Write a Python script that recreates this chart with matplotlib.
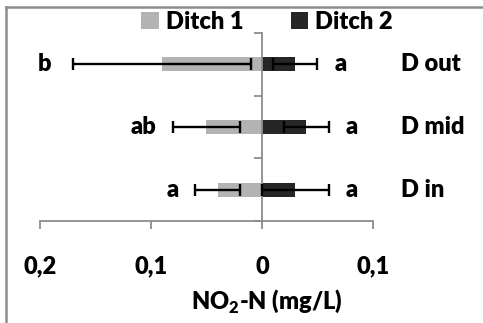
import matplotlib
matplotlib.use("Agg")
import matplotlib.pyplot as plt
from matplotlib.lines import Line2D
import numpy as np

# data (mg/L)
sites = ["D in", "D mid", "D out"]
ditch1 = [0.04, 0.05, 0.09]      # drawn to the left
ditch1_err = [0.02, 0.03, 0.08]
ditch2 = [0.03, 0.04, 0.03]
ditch2_err = [0.03, 0.02, 0.02]
letters1 = ["a", "ab", "b"]
letters2 = ["a", "a", "a"]
xticks = [-0.2, -0.1, 0, 0.1]
xtick_labels = ["0,2", "0,1", "0", "0,1"]

plt.rcParams['font.family'] = ['Lato', 'DejaVu Sans']
plt.rcParams['font.weight'] = 800
plt.rcParams['mathtext.fontset'] = 'custom'
plt.rcParams['mathtext.rm'] = 'Lato:weight=800'
plt.rcParams['mathtext.bf'] = 'Lato:weight=800'

W, H = 483, 323
fig = plt.figure(figsize=(W / 100, H / 100), dpi=100)
ax = fig.add_axes([40 / W, 1 - 221 / H, 333 / W, 188 / H])

fs = 17
wt = 800
axcol = "#8c8c8c"
y = np.arange(len(sites)) + 0.5
bh = 0.22

ax.barh(y, -np.array(ditch1), height=bh, color="#b3b3b3", label="Ditch 1", zorder=2)
ax.barh(y, ditch2, height=bh, color="#262626", label="Ditch 2", zorder=2)
ax.errorbar(-np.array(ditch1), y, xerr=ditch1_err, fmt="none", ecolor="black",
            elinewidth=1.7, capsize=4, capthick=1.7, zorder=3)
ax.errorbar(ditch2, y, xerr=ditch2_err, fmt="none", ecolor="black",
            elinewidth=1.7, capsize=4, capthick=1.7, zorder=3)

# significance letters next to the error bar ends
for yi, v, e, t in zip(y, ditch1, ditch1_err, letters1):
    ax.annotate(t, (-(v + e), yi), xytext=(-16 if t == "b" else -12, 0),
                textcoords="offset points", ha="right", va="center",
                fontsize=fs, fontweight=wt)
for yi, v, e, t in zip(y, ditch2, ditch2_err, letters2):
    ax.annotate(t, (v + e, yi), xytext=(12, 0), textcoords="offset points",
                ha="left", va="center", fontsize=fs, fontweight=wt)
for yi, s in zip(y, sites):
    ax.text(0.1 + 0.025, yi, s, ha="left", va="center", fontsize=fs, fontweight=wt)

ax.set_xlim(-0.2, 0.1)
ax.set_ylim(0, 3)
for s in ["top", "right"]:
    ax.spines[s].set_visible(False)
ax.spines["left"].set_position(("data", 0))
ax.spines["left"].set_color(axcol)
ax.spines["bottom"].set_color(axcol)
ax.spines["left"].set_linewidth(1.3)
ax.spines["bottom"].set_linewidth(1.3)
ax.set_yticks([0, 1, 2, 3])
ax.set_yticklabels([])
ax.tick_params(axis="y", length=6, width=1.3, color=axcol)
ax.set_xticks(xticks)
ax.set_xticklabels(xtick_labels, fontsize=fs, fontweight=wt)
ax.tick_params(axis="x", length=6, width=1.3, color=axcol, pad=19)
ax.set_xlabel(r"NO$_{2}$-N (mg/L)", fontsize=fs, fontweight=wt)
ax.xaxis.set_label_coords((267 - 40) / 333, -0.355)

fig.legend(loc="center", bbox_to_anchor=(267 / W, 1 - 22 / H), ncol=2, frameon=False,
           handlelength=0.75, handleheight=0.75, handletextpad=0.3,
           columnspacing=2.0, prop={"weight": wt, "size": fs})

# outer chart frame (only top and left edges visible in the crop)
fig.add_artist(Line2D([5.5 / W, 5.5 / W], [0, 1 - 7 / H], color=axcol, lw=1.8))
fig.add_artist(Line2D([5.5 / W, 1], [1 - 7 / H, 1 - 7 / H], color=axcol, lw=1.8))

fig.savefig("out.png", dpi=100)
